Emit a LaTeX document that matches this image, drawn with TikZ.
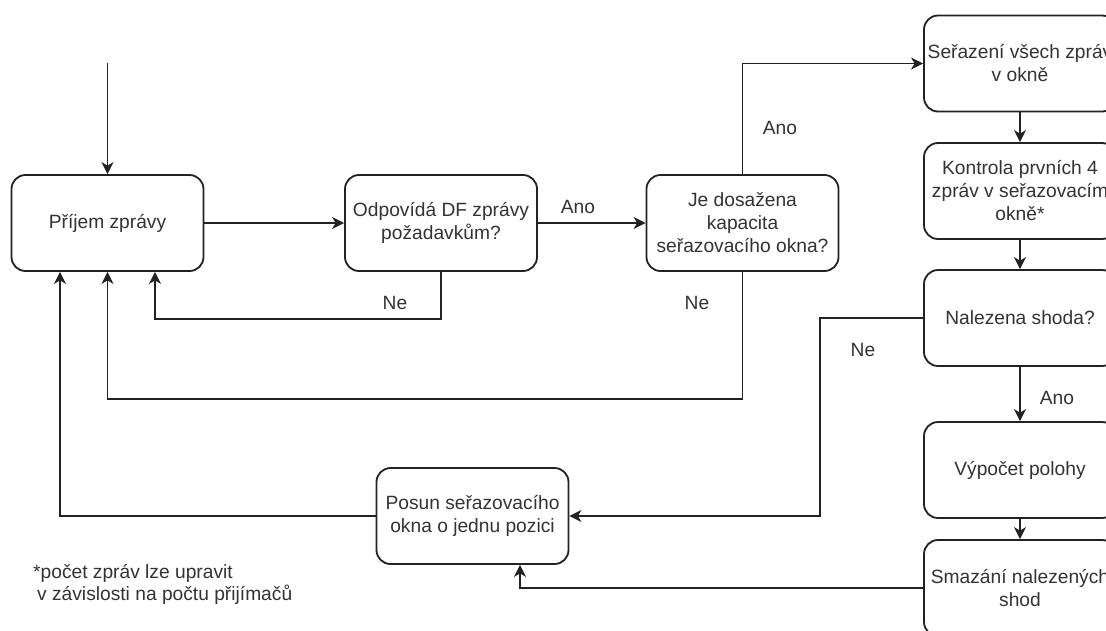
\documentclass[tikz,border=0pt]{standalone}
\usepackage{fontspec}
\setmainfont{Liberation Sans}
\usetikzlibrary{arrows.meta}
\definecolor{txt}{HTML}{333333}
\definecolor{ln}{HTML}{222222}
\tikzset{
  box/.style={draw=ln, line width=1.8pt, rounded corners=14pt, minimum width=192pt, minimum height=96pt, inner sep=0pt, align=center, text=txt},
  lbl/.style={text=txt, inner sep=0pt},
  arr/.style={draw=ln, line width=1.8pt, -{Stealth[length=12pt,width=12pt,inset=3.5pt]}},
}
\begin{document}
\begin{tikzpicture}[x=1pt,y=-1pt, font=\fontsize{19.2}{23}\selectfont]
\path[use as bounding box, clip] (0,0) rectangle (1106,630);
\fill[white] (0,0) rectangle (1106,630);

\node[box] (prijem) at (107.5,223) {Příjem zprávy};
\node[box] (odp) at (441,223) {Odpovídá DF zprávy\\požadavkům?};
\node[box] (kap) at (742.5,223) {Je dosažena\\kapacita\\seřazovacího okna?};
\node[box] (s1) at (1020,63.5) {Seřazení všech zpráv\\v okně};
\node[box] (s2) at (1020,191) {Kontrola prvních 4\\zpráv v seřazovacím\\okně*};
\node[box] (s3) at (1020,318) {Nalezena shoda?};
\node[box] (s4) at (1020,470) {Výpočet polohy};
\node[box] (s5) at (1020,588) {Smazání nalezených\\shod};
\node[box] (posun) at (472.5,516) {Posun seřazovacího\\okna o jednu pozici};

\coordinate (start) at (107.5,63);
\draw[arr] (start) -- (prijem.north);
\draw[arr] (prijem.east) -- (odp.west);
\draw[arr] (odp.east) -- (kap.west);
\draw[arr] (odp.south) -- ++(0,47) -| ([xshift=47.5]prijem.south);
\draw[arr] (kap.south) -- ++(0,127) -| (prijem.south);
\draw[arr] (kap.north) |- (s1.west);
\draw[arr] (s1.south) -- (s2.north);
\draw[arr] (s2.south) -- (s3.north);
\draw[arr] (s3.south) -- (s4.north);
\draw[arr] (s4.south) -- (s5.north);
\draw[arr] (s3.west) -- ++(-103,0) |- (posun.east);
\draw[arr] (s5.west) -| ([xshift=47.5]posun.south);
\draw[arr] (posun.west) -| ([xshift=-47.5]prijem.south);

\node[lbl] (l1) at (578,207) {Ano};
\node[lbl] (l2) at (395,303) {Ne};
\node[lbl] (l3) at (697,303) {Ne};
\node[lbl] (l4) at (780,128) {Ano};
\node[lbl] (l5) at (863,350) {Ne};
\node[lbl] (l6) at (1057,398) {Ano};

\node[lbl, anchor=base west] (fn1) at (33,578) {*počet zpráv lze upravit};
\node[lbl, anchor=base west] (fn2) at (37,600) {v závislosti na počtu přijímačů};
\end{tikzpicture}
\end{document}
